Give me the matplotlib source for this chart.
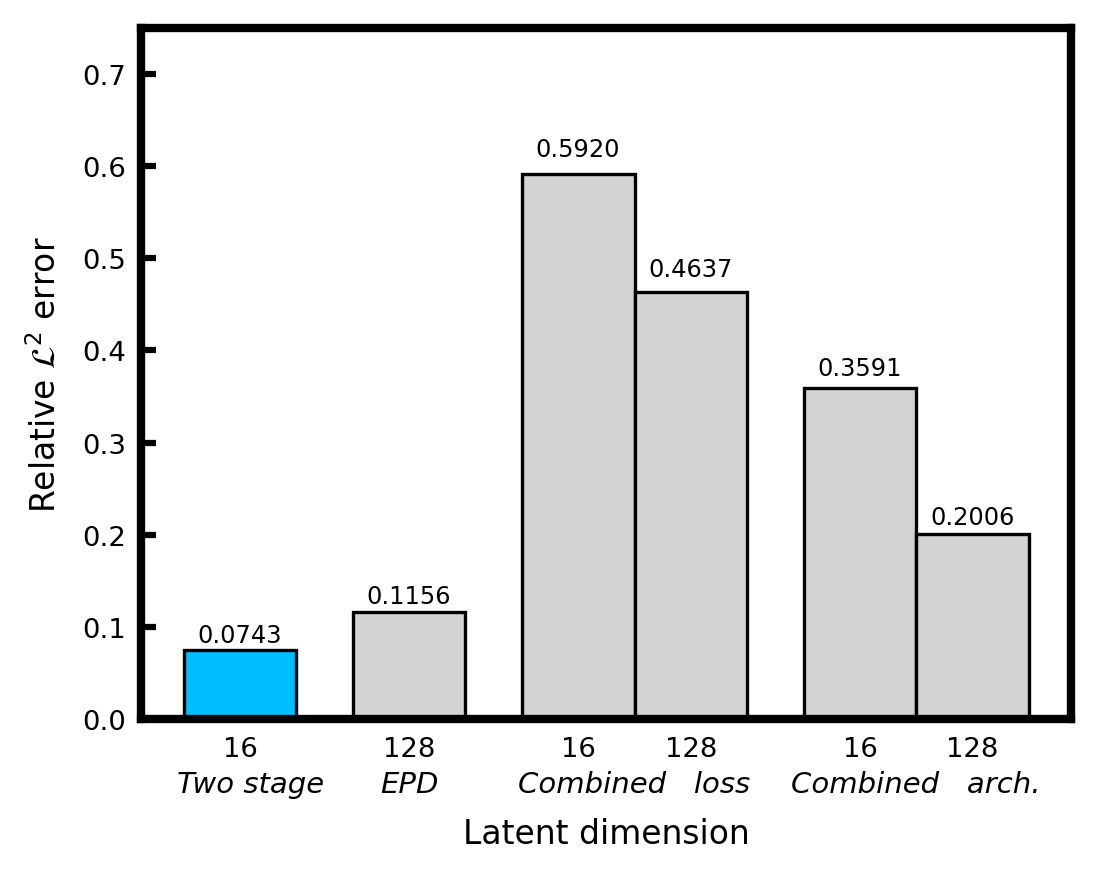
import numpy as np
import matplotlib.pyplot as plt

# bar data
positions = [0, 1, 2, 2.667, 3.667, 4.333]
errors = [0.0743, 0.1156, 0.5920, 0.4637, 0.3591, 0.2006]
latent_dims = ['16', '128', '16', '128', '16', '128']
colors = ['deepskyblue', 'lightgray', 'lightgray', 'lightgray', 'lightgray', 'lightgray']

# group labels under the ticks
group_names = ['Two stage', 'EPD', 'Combined   loss', 'Combined   arch.']
group_pos = [0.065, 1, 2.333, 4.0]

fig = plt.figure(figsize=(1101 / 300, 880 / 300), dpi=300)
ax = fig.add_axes([0.128, 0.182, 0.845, 0.785])

bars = ax.bar(positions, errors, width=0.667, color=colors,
              edgecolor='black', linewidth=0.8)
for b, v in zip(bars, errors):
    ax.text(b.get_x() + b.get_width() / 2, v * 1.02 + 0.002, f'{v:.4f}',
            ha='center', va='bottom', fontsize=5.8)

ax.set_xlim(-0.586, 4.917)
ax.set_ylim(0, 0.75)
ax.set_yticks(np.arange(0, 0.71, 0.1))
ax.set_yticklabels([f'{t:.1f}' for t in np.arange(0, 0.71, 0.1)])
ax.set_xticks(positions)
ax.set_xticklabels(latent_dims)

ax.tick_params(axis='y', direction='in', length=3.5, width=1.5,
               labelsize=6.6, pad=3.5)
ax.tick_params(axis='x', length=0, labelsize=6.6, pad=4)

for g, p in zip(group_names, group_pos):
    ax.text(p, -0.094, g, ha='center', va='center', fontsize=7.0,
            style='italic', transform=ax.get_xaxis_transform())

for s in ax.spines.values():
    s.set_linewidth(2)

ax.set_xlabel('Latent dimension', fontsize=7.9, labelpad=13.3)
ax.set_ylabel(r'Relative $\mathcal{L}^2$ error', fontsize=7.9, labelpad=4.6)

fig.savefig('out.png', dpi=300)
